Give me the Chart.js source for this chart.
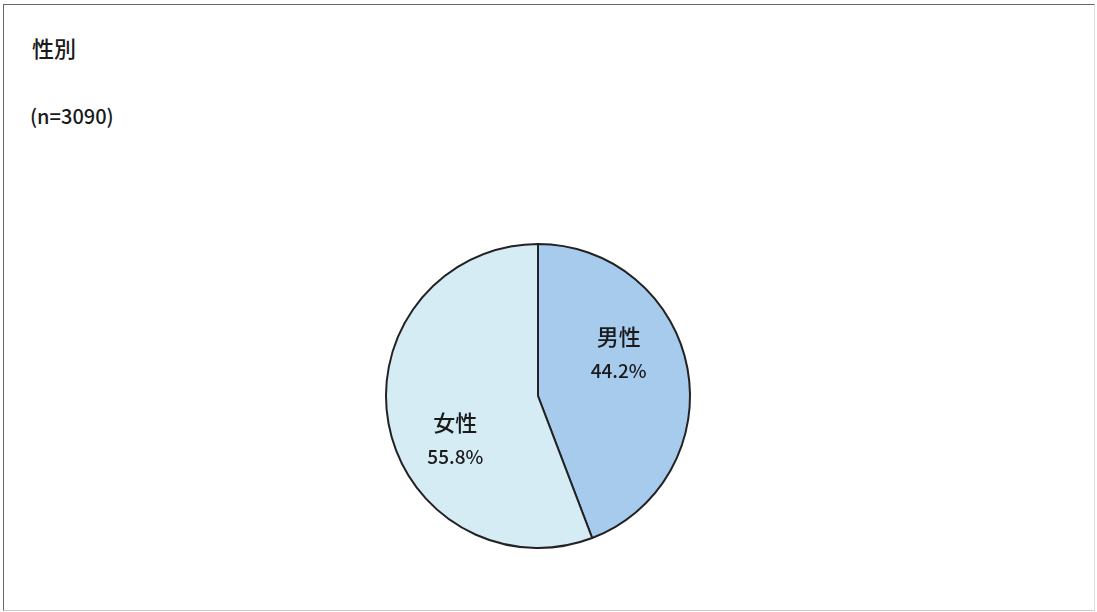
<!DOCTYPE html>
<html lang="ja">
<head>
<meta charset="utf-8">
<title>性別</title>
<script src="https://cdn.jsdelivr.net/npm/chart.js@4/dist/chart.umd.min.js"></script>
<style>
  html, body { margin: 0; padding: 0; background: #fff; }
  body { width: 1097px; height: 612px; position: relative; overflow: hidden;
         font-family: "Noto Sans CJK JP", "Noto Sans", sans-serif; color: #1a1a1a; }
  .frame { position: absolute; left: 3px; top: 4px; width: 1090px; height: 605px;
           border-top: 1px solid #666; border-left: 1px solid #666;
           border-right: 1px solid #ddd; border-bottom: 1px solid #ccc; }
  .title { position: absolute; left: 32px; top: 31px; font-size: 22px; font-weight: 500; }
  .note { position: absolute; left: 30px; top: 101px; font-size: 20px; font-weight: 500; }
  #wrap { position: absolute; left: 0; top: 0; width: 1097px; height: 612px; }
</style>
</head>
<body>
<div class="frame"></div>
<div class="title">性別</div>
<div class="note">(n=3090)</div>
<div id="wrap"><canvas id="grafico"></canvas></div>
<script>
const categorias = ['男性', '女性'];
const porcentagens = [44.2, 55.8];
const cores = ['#a7cbed', '#d6ecf5'];

// rótulo dentro de cada fatia: nome + percentual
const rotulosFatias = {
  id: 'rotulosFatias',
  afterDatasetsDraw(chart, args, opts) {
    const ctx = chart.ctx;
    const meta = chart.getDatasetMeta(0);
    meta.data.forEach((arc, i) => {
      const meio = (arc.startAngle + arc.endAngle) / 2;
      const r = arc.outerRadius * opts.raio;
      const x = arc.x + Math.cos(meio) * r + opts.ajuste[i][0];
      const y = arc.y + Math.sin(meio) * r + opts.ajuste[i][1];
      ctx.save();
      ctx.fillStyle = '#1a1a1a';
      ctx.textAlign = 'center';
      ctx.textBaseline = 'middle';
      ctx.font = '500 22px "Noto Sans CJK JP"';
      ctx.fillText(categorias[i], x, y - 17);
      ctx.font = '500 19px "Noto Sans CJK JP"';
      ctx.fillText(porcentagens[i].toFixed(1) + '%', x, y + 17);
      ctx.restore();
    });
  }
};

new Chart(document.getElementById('grafico'), {
  type: 'pie',
  data: {
    labels: categorias,
    datasets: [{
      data: porcentagens,
      backgroundColor: cores,
      borderColor: '#222',
      borderWidth: 2
    }]
  },
  options: {
    responsive: true,
    maintainAspectRatio: false,
    animation: false,
    layout: { padding: { top: 243, bottom: 63, left: 0, right: 21 } },
    plugins: {
      legend: { display: false },
      tooltip: { enabled: false },
      rotulosFatias: { raio: 0.6, ajuste: [[-9, -26], [7, 27]] }
    }
  },
  plugins: [rotulosFatias]
});
</script>
</body>
</html>
